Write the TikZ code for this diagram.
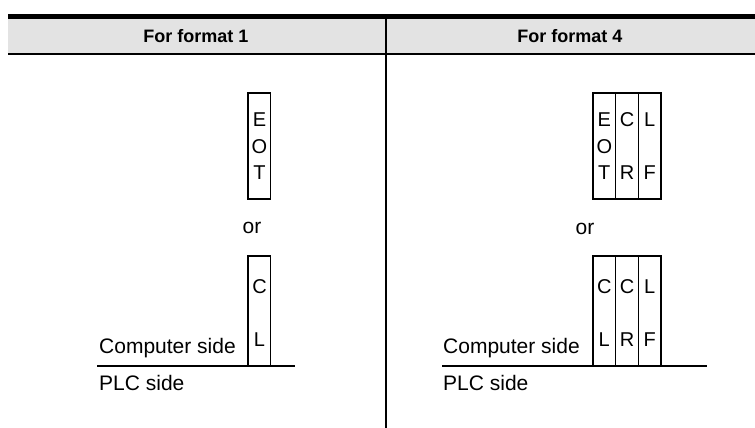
\documentclass[tikz,border=0pt]{standalone}
\usepackage{fontspec}
\setmainfont{Liberation Sans}
\definecolor{hdrgray}{HTML}{E3E3E3}
\begin{document}
\begin{tikzpicture}[x=1pt,y=-1pt,
  slotbox/.style={draw, line width=1.5pt, minimum width=22.7pt, minimum height=#1, inner sep=0pt, outer sep=0pt, anchor=north west},
  ch/.style={font=\fontsize{20}{20}\selectfont, inner sep=0pt, anchor=base},
  lbl/.style={font=\fontsize{21}{21}\selectfont, inner sep=0pt, anchor=base west},
  ortext/.style={font=\fontsize{21}{21}\selectfont, inner sep=0pt},
  hdr/.style={font=\fontsize{18}{18}\selectfont\bfseries, inner sep=0pt},
  baseline/.style={line width=1.5pt}]
\useasboundingbox (0,0) rectangle (755,428);
% header
\fill[hdrgray] (8,19) rectangle (755,53);
\coordinate (tl) at (8,16.5); \coordinate (tr) at (755,16.5);
\coordinate (hl) at (8,54); \coordinate (hr) at (755,54);
\coordinate (vt) at (386,19); \coordinate (vb) at (386,428);
\draw[line width=4.5pt] (tl) -- (tr);
\draw[line width=2.5pt] (hl) -- (hr);
\draw[line width=2pt] (vt) -- (vb);
\node[hdr] (h1) at (196,36) {For format 1};
\node[hdr] (h4) at (570,36) {For format 4};
% left top: EOT
\node[slotbox=106pt] (eot1) at (248,93) {};
\node[ch] (e1) at (259.5,126) {E};
\node[ch] (o1) at (259.5,153) {O};
\node[ch] (t1) at (259.5,179) {T};
\node[ortext] (or1) at (252,228) {or};
% left bottom: CL
\node[slotbox=110pt] (cl1) at (248,256) {};
\node[ch] (c1) at (259.5,293) {C};
\node[ch] (l1) at (259.5,346) {L};
\coordinate (bl1) at (97,366); \coordinate (br1) at (295,366);
\draw[baseline] (bl1) -- (br1);
\node[lbl] (cs1) at (99,353) {Computer side};
\node[lbl] (ps1) at (99,390) {PLC side};
% right top: EOT CR LF
\node[slotbox=106pt] (eot4) at (593,93) {};
\node[slotbox=106pt] (cr4) at (615.7,93) {};
\node[slotbox=106pt] (lf4) at (638.4,93) {};
\node[ch] (e4) at (604.3,126) {E};
\node[ch] (o4) at (604.3,153) {O};
\node[ch] (t4) at (604.3,179) {T};
\node[ch] (c4) at (627,126) {C};
\node[ch] (r4) at (627,179) {R};
\node[ch] (l4) at (649.7,126) {L};
\node[ch] (f4) at (649.7,179) {F};
\node[ortext] (or4) at (585,229) {or};
% right bottom: CL CR LF
\node[slotbox=110pt] (cl4) at (593,256) {};
\node[slotbox=110pt] (cr4b) at (615.7,256) {};
\node[slotbox=110pt] (lf4b) at (638.4,256) {};
\node[ch] (cc4) at (604.3,293) {C};
\node[ch] (ll4) at (604.3,346) {L};
\node[ch] (cc4b) at (627,293) {C};
\node[ch] (rr4) at (627,346) {R};
\node[ch] (ll4b) at (649.7,293) {L};
\node[ch] (ff4) at (649.7,346) {F};
\coordinate (bl4) at (442,366); \coordinate (br4) at (707,366);
\draw[baseline] (bl4) -- (br4);
\node[lbl] (cs4) at (443,353) {Computer side};
\node[lbl] (ps4) at (443,390) {PLC side};
\end{tikzpicture}
\end{document}
